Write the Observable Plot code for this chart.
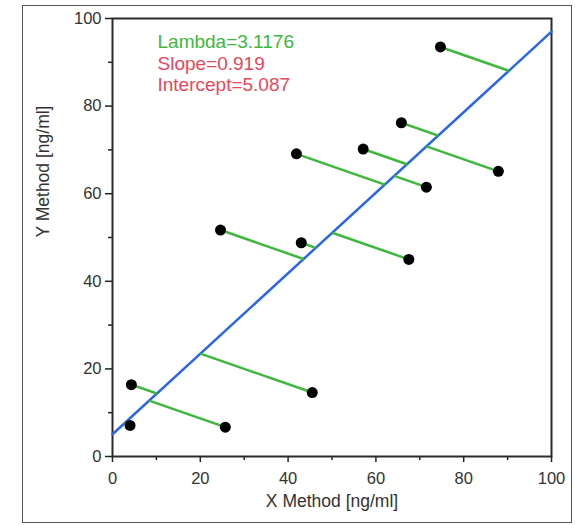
<!DOCTYPE html>
<html>
<head>
<meta charset="utf-8">
<script src="https://cdn.jsdelivr.net/npm/d3@7"></script>
<script src="https://cdn.jsdelivr.net/npm/@observablehq/plot@0.6"></script>
<style>
  html, body { margin: 0; padding: 0; background: #fff; }
  #wrap { position: relative; width: 575px; height: 525px; font-family: "Liberation Sans", Arial, sans-serif; }
  #border { position: absolute; left: 22px; top: 5px; width: 548px; height: 516px; border: 1.5px solid #555; }
  #chart { position: absolute; left: 0; top: 0; }
</style>
</head>
<body>
<div id="wrap">
  <div id="border"></div>
  <div id="chart"></div>
</div>
<script>
// Paired measurements: X method vs Y method (ng/ml)
const xMethod = [4.3, 4.0, 25.7, 45.5, 24.6, 43.0, 67.5, 41.9, 57.1, 71.5, 65.8, 87.9, 74.7];
const yMethod = [16.4, 7.1, 6.7, 14.6, 51.7, 48.8, 45.0, 69.1, 70.2, 61.5, 76.2, 65.1, 93.5];

// Deming regression results
const lambda = 3.1176;
const slope = 0.919;
const intercept = 5.087;

const axisTicks = [0, 20, 40, 60, 80, 100];
const minorTicks = [10, 30, 50, 70, 90];

// Each point is projected onto the fitted line along the Deming direction
const dirSlope = -1 / (lambda * slope);
const points = xMethod.map((x, i) => {
  const y = yMethod[i];
  const xf = (y - intercept - dirSlope * x) / (slope - dirSlope);
  return {x, y, xf, yf: intercept + slope * xf};
});
const fitLine = [0, 100].map(x => ({x, y: intercept + slope * x}));

const green = "#3db83d";
const red = "#e8475c";
const blue = "#2b66e6";
const font = "Liberation Sans, Arial, sans-serif";

const chart = Plot.plot({
  width: 575,
  height: 525,
  marginLeft: 112,
  marginRight: 24,
  marginTop: 18,
  marginBottom: 69,
  style: {fontFamily: font, background: "transparent", overflow: "visible"},
  x: {domain: [0, 100]},
  y: {domain: [0, 100]},
  marks: [
    Plot.axisX({ticks: minorTicks, tickSize: 4, text: null, stroke: "#222", strokeWidth: 1.5}),
    Plot.axisY({ticks: minorTicks, tickSize: 4, text: null, stroke: "#222", strokeWidth: 1.5}),
    Plot.axisX({ticks: axisTicks, tickSize: 6, tickPadding: 10, fontSize: 16.5, fill: "#333", stroke: "#222", strokeWidth: 1.5, label: null}),
    Plot.axisY({ticks: axisTicks, tickSize: 7, tickPadding: 4, fontSize: 16.5, fill: "#333", stroke: "#222", strokeWidth: 1.5, label: null}),
    Plot.frame({stroke: "#2a2a2a", strokeWidth: 2}),
    Plot.line(fitLine, {x: "x", y: "y", stroke: blue, strokeWidth: 2.5}),
    Plot.link(points, {x1: "x", y1: "y", x2: "xf", y2: "yf", stroke: green, strokeWidth: 2.5}),
    Plot.dot(points, {x: "x", y: "y", r: 5.5, fill: "#000", stroke: "none"}),
    Plot.text([`Lambda=${lambda}`], {frameAnchor: "top-left", textAnchor: "start", dx: 45, dy: 16, fontSize: 19, fill: green}),
    Plot.text([`Slope=${slope}`], {frameAnchor: "top-left", textAnchor: "start", dx: 45, dy: 37.7, fontSize: 19, fill: red}),
    Plot.text([`Intercept=${intercept}`], {frameAnchor: "top-left", textAnchor: "start", dx: 45, dy: 59.4, fontSize: 19, fill: red}),
    Plot.text(["X Method [ng/ml]"], {frameAnchor: "bottom", dy: 50, fontSize: 17.5, fill: "#333"}),
    Plot.text(["Y Method [ng/ml]"], {frameAnchor: "left", dx: -69.5, rotate: -90, fontSize: 17.5, fill: "#333"})
  ]
});
document.getElementById("chart").appendChild(chart);
</script>
</body>
</html>
